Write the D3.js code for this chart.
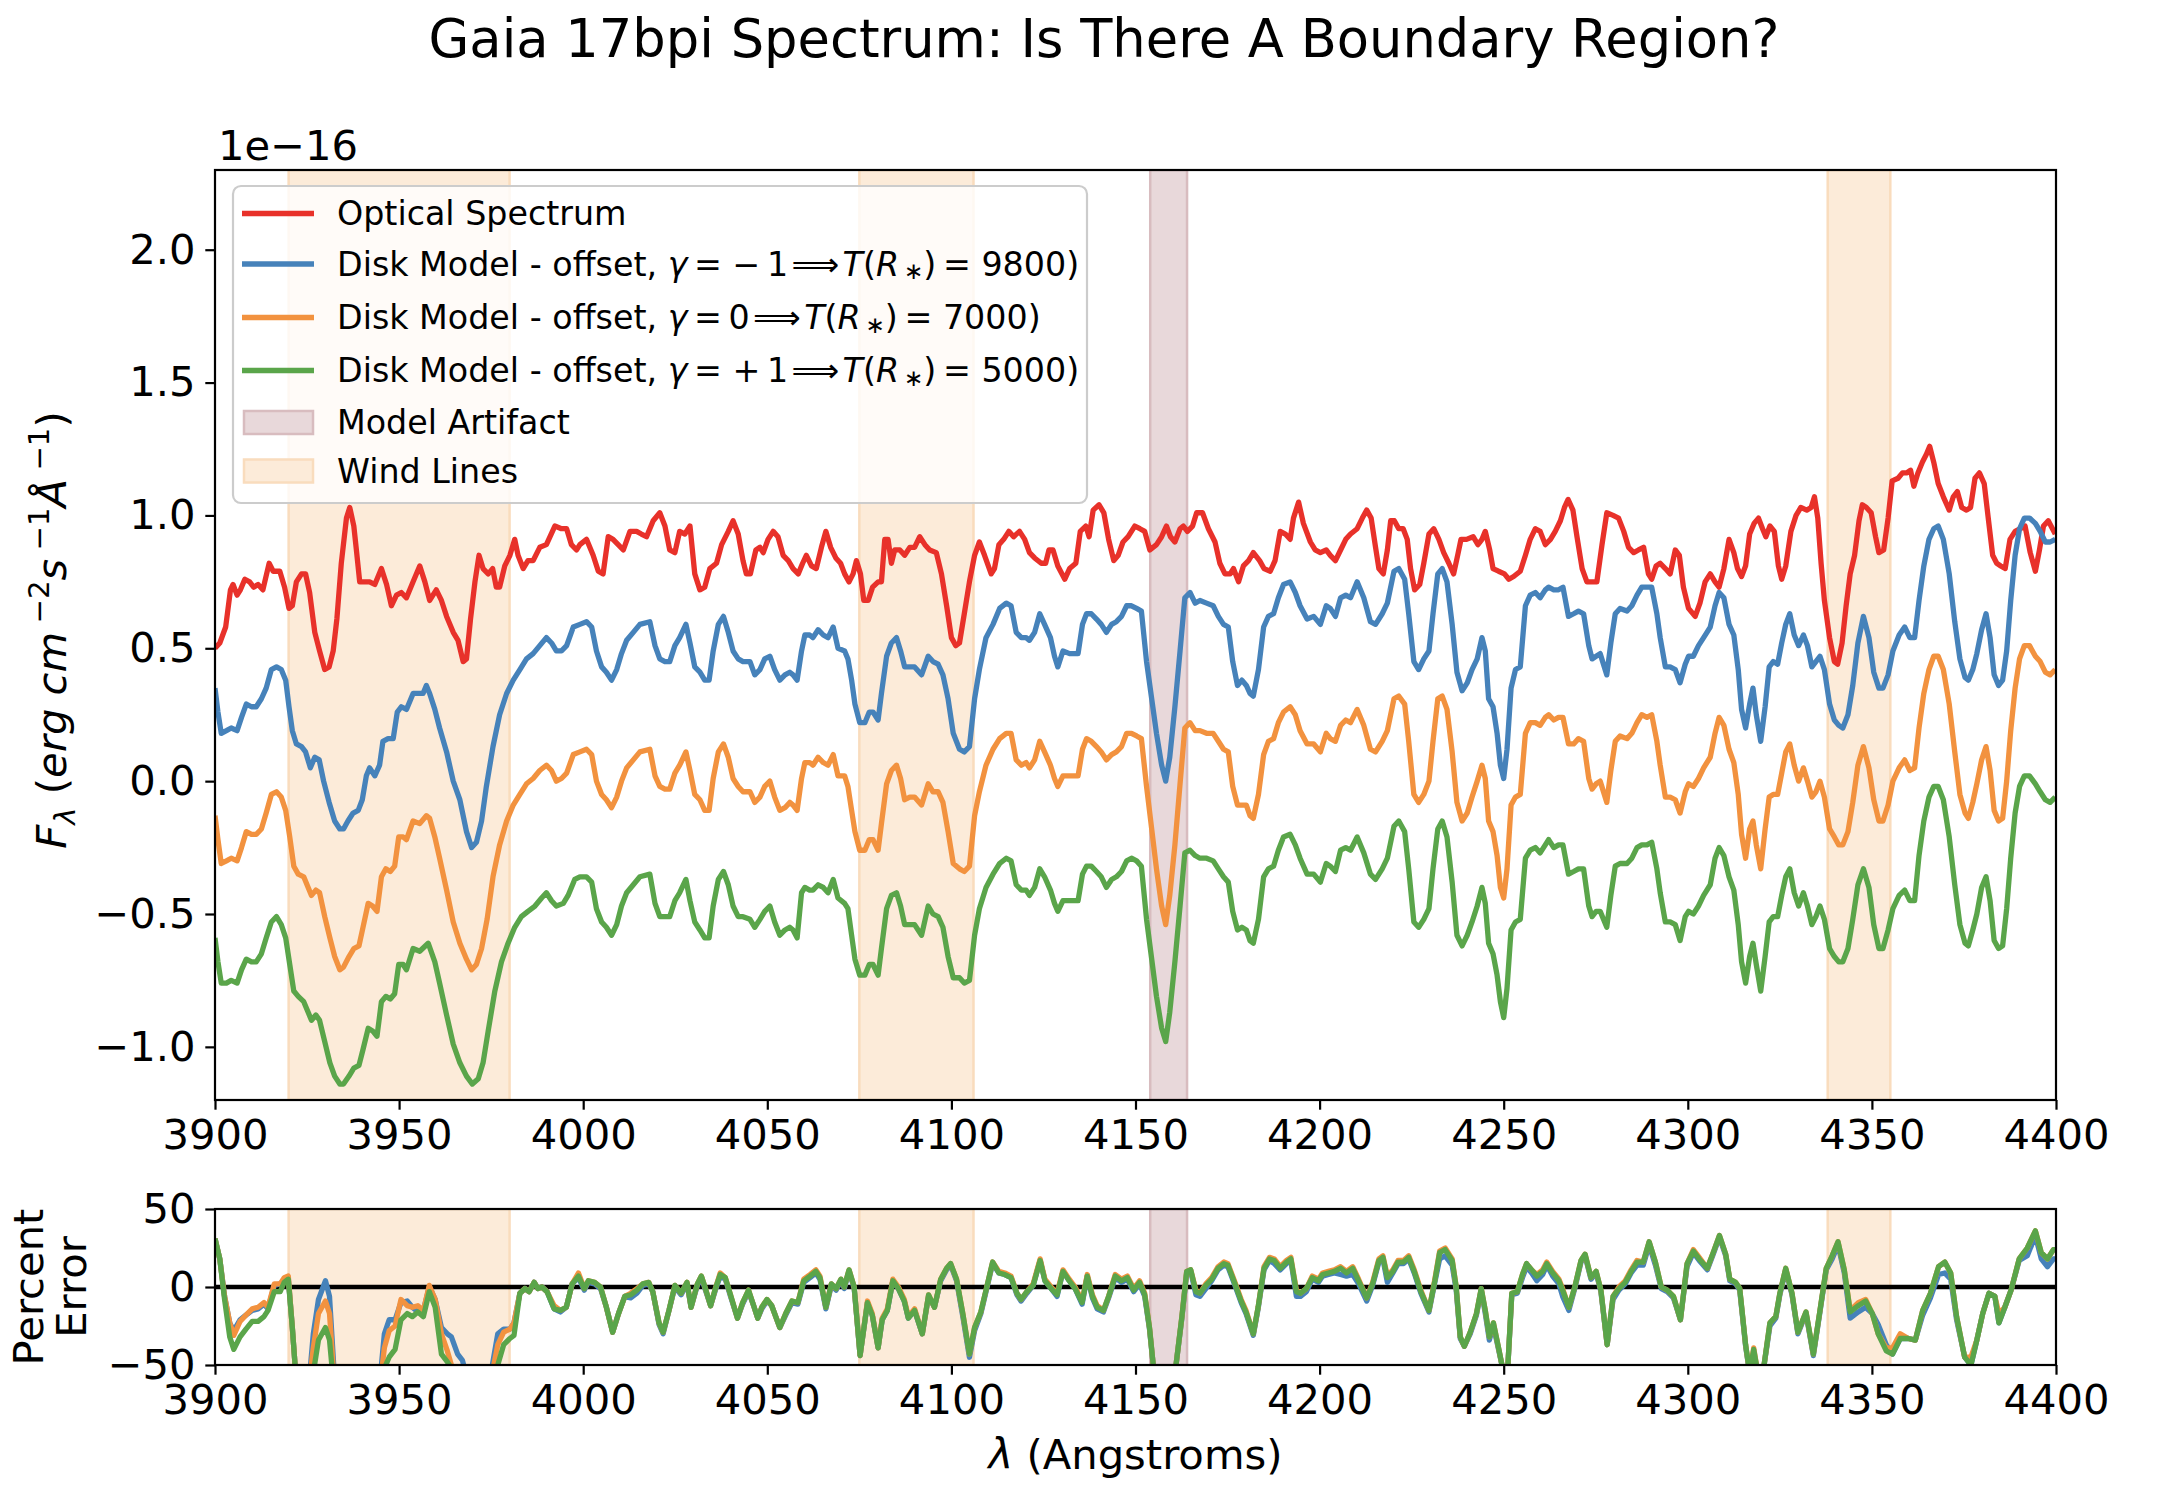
<!DOCTYPE html>
<html>
<head>
<meta charset="utf-8">
<script src="https://cdn.jsdelivr.net/npm/d3@7"></script>
<style>
  body { margin: 0; background: #fff; }
  svg { display: block; font-family: "DejaVu Sans", sans-serif; }
</style>
</head>
<body>
<div class="container"></div>
<script>
// ---------- data ----------
const wavelengthTicks = [3900, 3950, 4000, 4050, 4100, 4150, 4200, 4250, 4300, 4350, 4400];
const fluxTicks = [-1.0, -0.5, 0.0, 0.5, 1.0, 1.5, 2.0];
const errorTicks = [-50, 0, 50];
const windLineBands = [[3920, 3980], [4075, 4106], [4338, 4355]];
const artifactBands = [[4154, 4164]];

// observed spectrum, [wavelength, flux / 1e-16]
const opticalSpectrum = [
  [3900.0,.50],[3901.3,.52],[3902.9,.58],[3904.2,.72],[3904.9,.74],[3906.0,.70],[3906.9,.72],[3908.1,.76],[3909.4,.75],[3910.5,.73],
  [3911.7,.74],[3913.0,.72],[3914.7,.82],[3915.8,.79],[3917.6,.79],[3918.9,.73],[3920.1,.65],[3921.0,.66],[3922.1,.75],[3923.5,.78],
  [3924.6,.78],[3925.7,.71],[3927.1,.56],[3928.4,.49],[3929.8,.42],[3931.0,.43],[3932.1,.49],[3933.1,.61],[3934.3,.82],[3935.7,.99],
  [3936.6,1.03],[3937.7,.96],[3938.4,.87],[3939.3,.75],[3940.7,.75],[3942.0,.75],[3943.4,.74],[3945.2,.80],[3946.6,.74],[3947.9,.66],
  [3949.3,.70],[3950.6,.71],[3952.0,.69],[3953.8,.75],[3955.6,.81],[3957.0,.75],[3958.3,.68],[3960.1,.72],[3961.5,.68],[3962.9,.62],
  [3964.7,.56],[3966.0,.53],[3967.4,.45],[3968.3,.46],[3969.4,.61],[3970.6,.75],[3971.7,.85],[3972.8,.80],[3974.2,.78],[3975.4,.80],
  [3976.4,.73],[3977.3,.73],[3978.7,.81],[3980.1,.85],[3981.4,.91],[3982.3,.85],[3983.7,.80],[3985.0,.83],[3986.4,.83],[3988.2,.88],
  [3990.0,.89],[3992.3,.96],[3994.1,.95],[3995.5,.95],[3996.8,.89],[3998.2,.87],
  [3999.1,.89],[4000.9,.91],[4002.7,.85],[4004.1,.79],[4005.4,.78],[4006.8,.92],[4008.1,.91],[4009.5,.89],[4010.9,.87],[4012.7,.94],
  [4014.5,.94],[4015.8,.93],[4017.2,.92],[4019.0,.98],[4020.8,1.01],[4022.2,.96],[4023.5,.87],[4024.9,.86],[4026.2,.94],[4027.6,.93],
  [4029.0,.96],[4030.3,.78],[4031.7,.72],[4033.0,.73],[4034.4,.80],[4036.2,.82],[4037.6,.89],[4039.4,.94],[4040.7,.98],[4042.1,.93],
  [4043.4,.83],[4044.3,.78],[4045.4,.78],[4046.9,.87],[4048.0,.88],[4048.9,.86],[4050.2,.91],[4051.6,.94],[4052.9,.92],[4054.3,.85],
  [4055.7,.83],[4057.0,.80],[4058.4,.78],[4059.6,.82],[4060.6,.85],[4062.0,.81],[4063.3,.80],[4064.7,.88],[4065.9,.94],[4067.2,.88],
  [4068.6,.84],[4069.9,.82],[4071.0,.78],[4072.2,.75],[4073.3,.78],[4074.2,.83],[4075.3,.78],[4076.2,.68],[4077.4,.68],[4078.6,.73],
  [4080.1,.75],[4081.0,.75],[4081.9,.91],[4082.8,.91],[4083.7,.82],[4084.6,.87],[4086.0,.87],[4087.3,.85],[4088.7,.88],[4090.0,.88],
  [4091.4,.92],[4092.8,.89],[4094.1,.87],[4095.9,.86],[4097.3,.78],[4098.7,.66],[4100.0,.54],[4101.2,.51],
  [4102.2,.52],[4103.5,.63],[4104.9,.75],[4106.3,.85],[4107.6,.90],[4109.0,.85],[4110.8,.78],[4111.7,.80],[4112.9,.89],[4114.2,.91],
  [4115.6,.94],[4116.9,.92],[4118.5,.94],[4119.9,.91],[4121.2,.86],[4122.6,.84],[4124.4,.82],[4125.6,.82],[4126.5,.87],[4127.6,.87],
  [4128.9,.81],[4130.8,.76],[4132.1,.80],[4133.8,.82],[4135.0,.94],[4136.5,.96],[4137.4,.92],[4138.5,1.02],[4140.1,1.04],[4141.4,1.01],
  [4142.7,.91],[4144.1,.83],[4145.3,.85],[4146.6,.90],[4148.0,.92],[4149.8,.96],[4151.2,.95],[4152.5,.94],[4153.9,.87],[4155.7,.89],
  [4157.1,.92],[4158.4,.96],[4159.5,.92],[4160.7,.90],[4162.1,.95],[4163.0,.96],[4164.1,.94],[4165.5,.96],[4166.6,1.01],[4168.2,1.01],
  [4169.8,.95],[4171.6,.90],[4172.9,.82],[4174.3,.78],[4175.7,.78],[4176.6,.80],[4178.0,.75],[4179.3,.81],[4180.7,.83],[4182.0,.86],
  [4183.7,.83],[4184.9,.80],[4186.6,.79],[4187.9,.83],[4189.3,.94],[4190.7,.93],[4192.0,.91],[4192.9,.99],[4194.3,1.05],[4195.6,.97],
  [4197.5,.90],[4198.8,.87],[4200.2,.86],[4201.8,.87],[4202.9,.85],[4204.3,.83],
  [4205.7,.87],[4207.1,.91],[4208.4,.93],[4210.2,.95],[4211.6,.99],[4212.8,1.02],[4214.0,.99],[4215.2,.88],[4216.1,.80],[4217.3,.78],
  [4218.4,.87],[4219.3,.98],[4220.3,.98],[4221.5,.95],[4222.7,.95],[4223.8,.91],[4224.7,.80],[4225.8,.72],[4227.2,.74],[4228.3,.82],
  [4229.7,.93],[4231.0,.95],[4232.4,.91],[4233.7,.86],[4235.1,.82],[4236.4,.78],[4237.5,.85],[4238.4,.91],[4239.9,.91],[4241.7,.92],
  [4243.0,.89],[4244.1,.91],[4245.0,.94],[4246.2,.87],[4247.1,.80],[4248.6,.79],[4250.2,.78],[4251.4,.76],[4252.7,.77],[4254.5,.79],
  [4255.9,.85],[4257.2,.91],[4258.6,.95],[4259.9,.94],[4261.3,.89],[4262.7,.91],[4264.0,.94],[4265.4,.98],[4266.5,1.03],[4267.5,1.06],
  [4268.8,1.02],[4269.9,.92],[4271.3,.80],[4272.6,.75],[4274.2,.75],[4275.3,.75],[4276.7,.89],[4278.0,1.01],[4279.7,1.00],[4281.2,.99],
  [4282.6,.94],[4283.9,.88],[4285.3,.86],[4286.6,.87],[4288.0,.88],[4289.3,.78],[4290.2,.76],[4291.4,.81],[4292.5,.82],[4293.9,.80],
  [4295.2,.78],[4296.6,.87],[4297.7,.85],[4298.8,.73],[4300.2,.65],[4302.0,.62],[4303.3,.67],[4304.7,.75],[4306.1,.78],[4307.4,.75],
  [4308.5,.73],[4309.8,.80],[4311.2,.91],[4312.5,.86],[4313.5,.80],[4314.6,.77],[4315.7,.81],[4316.8,.93],[4318.0,.97],[4319.2,.99],
  [4320.3,.95],[4321.2,.92],[4322.3,.96],[4323.5,.94],[4324.6,.81],[4325.5,.76],[4326.6,.81],[4328.0,.94],[4329.4,1.00],[4330.7,1.03],
  [4332.3,1.02],[4333.5,1.03],[4334.4,1.07],[4335.3,.99],[4336.2,.82],[4337.1,.68],[4338.5,.54],[4339.8,.45],[4340.7,.44],[4341.9,.52],
  [4343.0,.66],[4344.1,.78],[4345.3,.85],[4346.5,.98],[4347.4,1.04],[4348.5,1.03],[4349.8,1.01],[4351.0,.92],[4351.9,.86],[4353.2,.87],
  [4354.4,.99],[4355.5,1.13],[4357.1,1.14],[4358.3,1.16],[4359.4,1.16],[4360.5,1.17],[4361.4,1.11],[4362.5,1.16],[4363.7,1.20],[4364.8,1.23],
  [4365.7,1.26],[4366.8,1.20],[4368.0,1.12],[4369.4,1.07],[4371.0,1.02],[4372.1,1.07],[4373.2,1.09],[4374.4,1.03],[4375.7,1.02],[4376.8,1.03],
  [4378.0,1.14],[4379.2,1.16],[4380.5,1.12],[4381.6,.99],[4382.8,.85],[4383.9,.82],[4385.0,.81],[4386.2,.80],[4387.5,.91],[4388.9,.94],
  [4390.3,.95],[4391.6,.96],[4393.0,.86],[4394.4,.79],[4395.5,.87],[4396.6,.96],[4397.9,.98],[4399.8,.93]
];

// disk models (offset), first stretch read separately for each model
const blueModelStart = [
  [3900.0,.35],[3900.8,.26],[3901.7,.18],[3903.1,.19],[3904.4,.20],[3906.0,.19],[3907.2,.24],[3908.5,.29],[3909.9,.28],[3911.2,.28],
  [3912.6,.31],[3913.9,.35],[3915.3,.42],[3916.7,.43],[3918.0,.42],[3919.2,.38],[3920.1,.28],[3921.0,.19],[3922.1,.14],[3923.5,.13],
  [3924.6,.11],[3925.9,.05],[3927.1,.09],[3928.3,.08],[3929.5,.00],[3931.0,-.08],[3932.5,-.15],[3933.9,-.18],[3934.9,-.18],[3936.1,-.15],
  [3937.5,-.12],[3938.9,-.11],[3940.0,-.07],[3941.1,.02],[3942.0,.05],[3943.4,.02],[3944.7,.06],[3945.6,.15],[3947.0,.16],[3948.4,.16],
  [3949.5,.26],[3950.6,.28],[3952.0,.27],[3953.8,.33],[3955.2,.33],[3956.5,.33],[3957.4,.36],[3958.3,.33],[3959.7,.27],[3961.0,.20],
  [3962.9,.11],[3964.7,.00],[3966.5,-.07],[3968.3,-.19],[3969.7,-.25],[3971.0,-.23],[3972.4,-.15],[3973.7,-.02],[3975.5,.13],[3977.3,.25],
  [3979.2,.33],[3981.0,.38],[3982.8,.42],[3984.6,.46],[3986.4,.48],[3988.2,.51],[3990.0,.54],[3991.4,.52],[3992.7,.49],[3994.1,.49],
  [3995.5,.51],[3997.3,.58]
];
const orangeModelStart = [
  [3900.0,-.13],[3900.8,-.22],[3901.7,-.31],[3903.1,-.30],[3904.4,-.29],[3906.0,-.30],[3907.2,-.25],[3908.5,-.19],[3909.9,-.20],[3911.2,-.20],
  [3912.6,-.18],[3913.9,-.12],[3915.3,-.05],[3916.7,-.04],[3918.0,-.06],[3919.2,-.11],[3920.3,-.21],[3921.4,-.32],[3922.6,-.35],[3924.1,-.36],
  [3925.3,-.40],[3926.2,-.43],[3927.4,-.41],[3928.4,-.42],[3929.8,-.51],[3931.2,-.59],[3932.5,-.66],[3933.9,-.71],[3934.9,-.70],[3936.4,-.66],
  [3937.7,-.63],[3939.1,-.62],[3940.2,-.55],[3941.6,-.46],[3942.8,-.47],[3944.0,-.49],[3945.2,-.36],[3946.4,-.33],[3947.6,-.34],[3948.8,-.32],
  [3949.9,-.21],[3951.1,-.21],[3952.0,-.22],[3953.8,-.15],[3955.6,-.16],[3957.4,-.13],[3958.3,-.14],[3959.7,-.21],[3961.0,-.29],[3962.9,-.41],
  [3964.7,-.53],[3966.5,-.61],[3968.3,-.67],[3969.7,-.71],[3971.0,-.69],[3972.4,-.63],[3973.9,-.52],[3975.5,-.36],[3977.3,-.24],[3979.2,-.15],
  [3981.0,-.09],[3982.8,-.05],[3984.6,-.01],[3986.4,.01],[3988.2,.04],[3990.0,.06],[3991.4,.04],[3992.7,.00],[3994.1,.01],[3995.5,.03],
  [3997.3,.10]
];
const greenModelStart = [
  [3900.0,-.59],[3900.8,-.68],[3901.7,-.76],[3903.1,-.76],[3904.4,-.75],[3906.0,-.76],[3907.2,-.71],[3908.5,-.67],[3909.9,-.68],[3911.2,-.68],
  [3912.6,-.65],[3913.9,-.59],[3915.3,-.53],[3916.7,-.51],[3918.0,-.54],[3919.2,-.59],[3920.3,-.69],[3921.4,-.79],[3922.6,-.81],[3924.1,-.83],
  [3925.3,-.87],[3926.2,-.90],[3927.4,-.88],[3928.4,-.90],[3929.8,-.98],[3931.2,-1.06],[3932.5,-1.11],[3933.9,-1.14],[3934.9,-1.14],[3936.4,-1.11],
  [3937.7,-1.08],[3939.1,-1.07],[3940.2,-1.01],[3941.6,-.93],[3942.8,-.94],[3944.0,-.96],[3945.2,-.83],[3946.4,-.81],[3947.6,-.82],[3948.8,-.80],
  [3949.9,-.69],[3951.1,-.69],[3952.0,-.71],[3953.8,-.63],[3955.6,-.64],[3957.9,-.61],[3959.7,-.68],[3961.0,-.76],[3962.9,-.88],[3964.7,-.99],
  [3966.5,-1.06],[3968.3,-1.11],[3969.9,-1.14],[3971.5,-1.12],[3972.8,-1.06],[3974.2,-.94],[3976.0,-.79],[3977.8,-.68],[3979.6,-.61],[3981.4,-.55],
  [3983.2,-.51],[3985.0,-.49],[3986.9,-.47],[3988.7,-.44],[3990.0,-.42],[3991.4,-.45],[3992.7,-.47],[3994.6,-.46],[3995.9,-.43],[3997.7,-.37]
];

// shared wavelength grid for the rest of the three models
const modelWave = [
  3999.1,4000.9,4002.3,4003.6,4005.0,4006.3,4007.7,4009.1,4010.4,4011.8,
  4013.6,4015.4,4018.1,4019.5,4020.8,4022.2,4023.5,4024.9,4026.2,4027.9,
  4029.0,4030.3,4031.7,4033.0,4034.2,4035.3,4036.7,4038.1,4039.4,4040.7,
  4042.1,4043.4,4045.3,4046.6,4048.0,4049.3,4050.7,4052.0,4053.4,4054.8,
  4056.1,4057.0,4058.1,4059.3,4060.2,4061.5,4062.4,4063.8,4065.2,4066.5,
  4067.9,4069.2,4071.0,4071.9,4072.9,4073.8,4075.1,4076.5,4077.7,4078.7,
  4080.1,4081.0,4082.4,4083.7,4085.1,4086.2,4087.3,4088.7,4090.0,4091.9,
  4093.7,4095.0,4096.4,4097.7,4099.1,4100.5,
  4102.2,4103.5,4104.9,4106.3,4107.6,4109.4,4111.3,4113.1,4114.9,4116.2,
  4117.6,4119.0,4120.3,4121.2,4122.6,4124.0,4125.3,4126.9,4128.0,4128.9,
  4130.3,4132.1,4134.4,4135.6,4136.7,4138.0,4139.4,4140.7,4142.1,4143.5,
  4144.8,4146.2,4147.6,4148.9,4150.3,4151.6,4153.0,4154.4,4155.7,4157.1,
  4158.2,4159.3,4160.7,4162.1,4163.4,4164.8,4166.2,4167.5,4169.3,4171.1,
  4172.5,4173.9,4175.2,4176.4,4177.7,4178.9,4180.1,4181.1,4182.0,4183.4,
  4184.8,4186.1,4187.5,4188.8,4190.2,4192.0,4193.4,4194.7,4196.6,4198.4,
  4200.2,4201.8,4202.9,4204.3,
  4205.7,4207.1,4208.4,4210.2,4212.0,4213.8,4215.2,4217.0,4218.4,4220.2,
  4221.5,4223.1,4224.2,4225.6,4226.9,4228.3,4229.7,4230.8,4232.1,4233.3,
  4234.6,4236.0,4237.3,4238.7,4240.1,4241.4,4242.8,4244.1,4245.0,4245.9,
  4247.1,4248.2,4249.1,4250.0,4250.9,4252.0,4253.2,4254.5,4255.9,4257.2,
  4258.6,4259.9,4261.3,4262.2,4263.6,4264.9,4266.1,4267.6,4269.0,4270.3,
  4271.7,4273.1,4274.0,4275.1,4276.2,4278.0,4279.1,4280.3,4281.6,4283.5,
  4284.8,4286.2,4287.5,4288.9,4290.2,4291.6,4292.5,4293.9,4295.2,4296.6,
  4297.9,4299.3,4300.2,4301.5,4302.9,4304.3,4306.1,4307.4,
  4308.5,4309.8,4311.2,4312.5,4313.7,4314.6,4315.7,4316.8,4317.7,4318.6,
  4319.8,4321.0,4322.1,4323.2,4324.4,4325.5,4326.6,4327.7,4328.9,4330.1,
  4331.4,4332.5,4333.7,4334.8,4335.9,4337.1,4338.5,4339.8,4341.0,4342.1,
  4343.5,4344.8,4346.2,4347.7,4349.2,4350.5,4351.9,4353.0,4354.4,4355.7,
  4357.4,4358.9,4360.3,4361.6,4362.8,4364.1,4365.5,4366.8,4368.0,4369.4,
  4371.0,4372.5,4373.9,4375.3,4376.2,4377.4,4378.5,4379.8,4381.0,4382.1,
  4383.2,4384.4,4385.5,4386.6,4387.7,4388.9,4390.1,4391.4,4392.8,4394.4,
  4395.7,4397.1,4398.4,4399.8
];
const blueModelRest = [
  .59,.60,.58,.49,.43,.41,.38,.42,.48,.53,
  .56,.59,.60,.51,.46,.45,.45,.51,.54,.59,
  .52,.43,.41,.38,.38,.49,.59,.62,.56,.49,
  .46,.45,.45,.40,.42,.46,.47,.42,.38,.40,
  .41,.40,.38,.49,.55,.55,.54,.57,.55,.54,
  .58,.50,.49,.46,.38,.29,.22,.22,.26,.26,
  .23,.33,.47,.52,.54,.49,.43,.43,.43,.40,
  .47,.45,.44,.40,.31,.18,
  .12,.11,.13,.31,.42,.54,.59,.65,.67,.66,
  .56,.54,.54,.53,.56,.63,.59,.54,.47,.43,
  .49,.48,.48,.59,.63,.63,.61,.59,.56,.59,
  .60,.62,.66,.66,.65,.64,.45,.31,.18,.06,
  .00,.09,.28,.49,.69,.71,.67,.68,.67,.66,
  .62,.59,.58,.45,.36,.38,.36,.33,.32,.42,
  .58,.62,.63,.69,.74,.75,.71,.66,.61,.62,
  .59,.66,.65,.62,
  .69,.70,.69,.75,.69,.60,.59,.63,.67,.79,
  .80,.76,.63,.45,.42,.46,.49,.63,.78,.80,
  .75,.59,.41,.34,.37,.42,.46,.54,.49,.31,
  .28,.18,.06,.01,.12,.35,.42,.43,.66,.70,
  .71,.69,.72,.73,.72,.72,.73,.62,.63,.64,
  .63,.51,.46,.47,.48,.40,.52,.63,.65,.64,
  .66,.70,.73,.73,.73,.63,.54,.43,.43,.42,
  .37,.44,.47,.47,.51,.54,.58,.66,
  .71,.69,.59,.55,.42,.27,.20,.29,.35,.25,
  .15,.28,.43,.45,.44,.52,.59,.63,.55,.51,
  .55,.51,.43,.45,.47,.42,.29,.23,.21,.20,
  .25,.36,.52,.62,.54,.41,.35,.35,.40,.49,
  .55,.58,.54,.54,.68,.81,.91,.95,.96,.91,
  .78,.60,.46,.39,.38,.42,.48,.57,.63,.54,
  .40,.36,.38,.49,.68,.85,.95,.99,.99,.97,
  .94,.90,.90,.91
];
const orangeModelRest = [
  .11,.12,.10,.00,-.05,-.07,-.10,-.06,.00,.05,
  .08,.11,.12,.02,-.02,-.03,-.03,.03,.06,.11,
  .04,-.05,-.07,-.11,-.11,.01,.11,.14,.09,.01,
  -.02,-.04,-.04,-.08,-.06,-.02,.00,-.06,-.11,-.10,
  -.08,-.09,-.11,.01,.07,.07,.06,.09,.07,.06,
  .10,.02,.02,-.02,-.11,-.19,-.26,-.26,-.22,-.22,
  -.26,-.16,-.01,.04,.06,.01,-.07,-.06,-.06,-.09,
  -.01,-.04,-.04,-.08,-.19,-.31,
  -.33,-.34,-.32,-.13,-.04,.06,.12,.16,.18,.18,
  .08,.06,.07,.05,.08,.15,.11,.06,.01,-.02,
  .02,.02,.02,.12,.16,.15,.13,.11,.08,.10,
  .11,.13,.18,.18,.17,.16,-.02,-.18,-.33,-.47,
  -.54,-.43,-.24,-.01,.20,.22,.19,.19,.18,.18,
  .15,.12,.11,-.02,-.09,-.09,-.09,-.13,-.14,-.05,
  .10,.15,.16,.22,.26,.28,.25,.19,.14,.14,
  .11,.18,.16,.15,
  .21,.23,.22,.27,.21,.12,.11,.15,.19,.31,
  .32,.29,.15,-.05,-.08,-.05,.00,.15,.31,.32,
  .27,.11,-.08,-.15,-.12,-.06,.00,.06,.01,-.15,
  -.19,-.28,-.40,-.44,-.33,-.09,-.06,-.05,.18,.22,
  .22,.21,.24,.25,.23,.24,.24,.14,.14,.16,
  .15,.01,-.03,-.01,.00,-.08,.04,.15,.17,.16,
  .18,.22,.25,.24,.25,.15,.06,-.06,-.06,-.07,
  -.12,-.04,-.01,-.02,.01,.05,.09,.18,
  .24,.21,.12,.07,-.05,-.20,-.29,-.18,-.15,-.24,
  -.33,-.18,-.06,-.05,-.05,.03,.11,.14,.06,.00,
  .05,.00,-.06,-.04,.00,-.06,-.18,-.21,-.24,-.24,
  -.19,-.08,.06,.13,.05,-.07,-.15,-.15,-.09,.00,
  .05,.08,.04,.05,.20,.33,.42,.47,.47,.42,
  .29,.11,-.05,-.12,-.14,-.08,-.01,.08,.13,.04,
  -.11,-.15,-.14,.00,.19,.35,.46,.51,.51,.47,
  .45,.41,.40,.42
];
const greenModelRest = [
  -.36,-.36,-.38,-.48,-.53,-.55,-.58,-.54,-.47,-.42,
  -.39,-.36,-.35,-.46,-.51,-.51,-.51,-.45,-.42,-.37,
  -.45,-.53,-.56,-.59,-.59,-.47,-.37,-.34,-.39,-.47,
  -.51,-.51,-.52,-.55,-.52,-.49,-.47,-.53,-.58,-.56,
  -.55,-.56,-.59,-.42,-.40,-.41,-.41,-.39,-.40,-.42,
  -.37,-.44,-.46,-.48,-.58,-.67,-.73,-.73,-.69,-.69,
  -.73,-.63,-.48,-.43,-.42,-.47,-.54,-.54,-.54,-.58,
  -.47,-.50,-.51,-.55,-.66,-.74,
  -.74,-.76,-.75,-.58,-.48,-.40,-.35,-.31,-.29,-.30,
  -.39,-.41,-.41,-.43,-.40,-.33,-.36,-.41,-.46,-.49,
  -.45,-.45,-.45,-.35,-.32,-.32,-.34,-.36,-.40,-.37,
  -.36,-.34,-.30,-.29,-.30,-.32,-.52,-.67,-.81,-.93,
  -.98,-.87,-.68,-.47,-.27,-.26,-.28,-.29,-.29,-.30,
  -.33,-.36,-.38,-.49,-.56,-.55,-.56,-.60,-.61,-.52,
  -.36,-.33,-.32,-.26,-.21,-.20,-.24,-.29,-.35,-.35,
  -.38,-.31,-.32,-.34,
  -.26,-.25,-.26,-.21,-.27,-.35,-.37,-.33,-.29,-.17,
  -.15,-.19,-.33,-.53,-.55,-.52,-.48,-.33,-.18,-.15,
  -.21,-.38,-.58,-.62,-.58,-.53,-.47,-.40,-.46,-.61,
  -.65,-.73,-.83,-.89,-.78,-.56,-.53,-.52,-.29,-.26,
  -.25,-.27,-.24,-.22,-.25,-.24,-.24,-.35,-.34,-.33,
  -.33,-.47,-.51,-.49,-.49,-.55,-.43,-.32,-.31,-.31,
  -.29,-.25,-.24,-.24,-.23,-.33,-.42,-.53,-.53,-.54,
  -.60,-.51,-.49,-.50,-.47,-.43,-.39,-.29,
  -.25,-.28,-.36,-.41,-.54,-.68,-.76,-.66,-.61,-.69,
  -.79,-.66,-.53,-.51,-.51,-.43,-.36,-.33,-.42,-.47,
  -.42,-.47,-.54,-.51,-.47,-.52,-.63,-.66,-.68,-.68,
  -.63,-.52,-.39,-.33,-.40,-.54,-.63,-.63,-.56,-.48,
  -.43,-.41,-.45,-.45,-.28,-.15,-.06,-.02,-.02,-.07,
  -.21,-.39,-.54,-.61,-.62,-.56,-.50,-.40,-.36,-.45,
  -.60,-.63,-.62,-.48,-.29,-.12,-.02,.02,.02,-.01,
  -.04,-.07,-.08,-.06
];

// percent error panel
const errWave = [
  3900.0,3901.3,3902.6,3904.0,3905.1,3906.8,3908.4,3910.1,3911.7,3913.3,
  3914.4,3916.1,3917.7,3918.8,3919.9,3921.0,3921.9,3923.2,3925.4,3926.7,
  3928.1,3930.0,3931.1,3932.5,3937.4,3944.0,3946.0,3947.3,3948.9,3950.5,
  3952.2,3953.6,3955.1,3956.6,3958.2,3959.8,3961.5,3963.1,3964.2,3965.9,
  3967.2,3968.1,3972.4,3976.8,3978.4,3980.1,3981.2,3982.8,3984.2,3985.3,
  3986.7,3987.7,3988.8,3990.2,3992.1,3993.8,3995.4,3997.0,3998.7,4000.3,
  4001.4,4003.1,4004.7,4006.3,4008.0,4009.6,4011.3,4012.9,4014.6,4016.2,
  4017.8,4018.9,4020.6,4021.7,4023.3,4024.9,4026.6,4028.2,4029.3,4031.0,
  4032.1,4033.2,4034.6,4035.9,4037.2,4038.6,4040.0,4041.9,4043.3,4044.9,
  4046.3,4047.4,4048.5,4049.9,4051.2,4053.4,4055.0,4056.7,4058.3,4059.9,
  4061.6,4063.2,4064.3,4065.9,4067.4,4068.7,4070.0,4070.9,4072.2,4073.6,
  4075.2,4077.2,4078.5,4080.1,4081.2,4082.6,4084.1,4085.6,4087.2,4088.3,
  4090.0,4092.1,4093.8,4095.4,4097.1,4098.7,4099.8,4101.4,4103.1,4104.9,
  4106.3,4108.0,4109.6,4111.2,4112.9,4114.5,4116.2,4117.8,4118.9,4120.5,
  4122.2,4124.1,4125.4,4127.1,4128.7,4130.3,4132.0,4133.6,4135.5,4136.9,
  4138.3,4139.6,4141.3,4142.7,4144.5,4146.2,4147.8,4149.5,4151.1,4152.5,
  4153.8,4154.9,4157.1,4159.8,4160.9,4162.6,4163.9,4165.0,4166.4,4167.5,
  4169.1,4170.7,4172.4,4174.0,4175.1,4176.7,4178.7,4180.0,4182.0,4183.3,
  4184.9,4186.4,4187.7,4189.3,4191.0,4192.2,4193.7,4194.8,4196.4,4198.0,
  4199.7,4200.8,4202.4,4204.0,4205.7,4207.3,4209.0,4210.6,4212.8,4214.4,
  4216.1,4217.2,4218.4,4219.9,4221.3,4222.8,4224.2,4225.7,4227.5,4229.7,
  4231.3,4232.6,4234.1,4236.0,4237.1,4238.2,4239.3,4240.9,4242.6,4243.9,
  4245.0,4246.1,4247.2,4248.6,4249.7,4250.8,4252.2,4253.7,4255.1,4256.2,
  4257.6,4259.0,4260.6,4261.7,4263.3,4265.0,4266.0,4267.7,4269.3,4271.0,
  4272.1,4273.7,4275.1,4276.4,4278.1,4279.7,4281.3,4283.0,4284.6,4286.2,
  4287.9,4289.5,4291.2,4292.8,4294.4,4296.1,4298.0,4299.8,4301.5,4303.1,
  4305.3,4306.9,4308.6,4310.3,4311.4,4313.0,4314.1,4315.7,4316.8,4317.9,
  4319.0,4320.6,4322.3,4323.9,4325.0,4326.6,4328.3,4329.9,4332.1,4334.1,
  4335.9,4337.6,4339.2,4340.8,4342.5,4344.1,4346.3,4348.3,4350.1,4351.7,
  4353.9,4355.6,4357.7,4359.9,4361.8,4363.8,4365.9,4368.1,4369.8,4371.4,
  4373.0,4375.2,4376.9,4378.5,4380.1,4381.8,4383.4,4384.5,4386.1,4387.8,
  4390.0,4392.2,4394.4,4396.0,4397.7,4399.3,4400.0
];
const errBlue = [
  31,18,-6,-23,-28,-21,-18,-15,-14,-11,
  -14,1,2,4,6,-26,-55,-80,-65,-30,
  -8,4,-6,-60,-90,-80,-30,-21,-21,-10,
  -9,-13,-16,-15,0,-8,-26,-30,-32,-43,
  -47,-55,-90,-30,-27,-27,-23,-4,-1,-3,
  3,-1,0,-3,-14,-16,-13,2,6,-2,
  3,2,-1,-13,-29,-17,-6,-7,-4,1,
  2,-3,-24,-30,-15,0,-5,2,-13,1,
  6,-2,-12,-2,7,5,-6,-20,-11,-3,
  -12,-20,-14,-9,-12,-26,-18,-10,-11,3,
  6,9,5,-14,1,-2,4,-1,10,-1,
  -44,-10,-18,-39,-21,-15,4,-1,-9,-20,
  -15,-30,-6,-13,4,11,14,4,-19,-45,
  -28,-17,-1,15,9,8,6,-5,-9,-4,
  1,17,4,-1,-6,10,4,-1,-11,7,
  -7,-14,-16,-7,6,3,5,-3,2,-6,
  -27,-52,-90,-80,-52,-20,9,10,-5,-6,
  -1,4,11,14,13,3,-10,-17,-31,-14,
  11,17,15,11,15,17,-6,-6,-3,5,
  3,7,8,9,8,7,8,2,-9,1,
  16,18,3,9,15,15,18,9,-4,-16,
  3,18,20,14,-2,-33,-38,-30,-18,-2,
  -17,-34,-25,-40,-52,-65,-5,-4,6,13,
  9,4,8,14,7,2,-6,-15,-1,16,
  20,5,9,-3,-37,-8,-2,2,9,14,
  14,27,14,-1,-3,-7,-21,13,22,17,
  11,21,32,20,4,2,-2,-38,-55,-42,
  -55,-52,-25,-20,-5,11,-5,-30,-17,-44,
  -16,11,18,27,9,-20,-16,-13,-17,-24,
  -37,-43,-33,-33,-34,-18,-7,8,9,5,
  -21,-45,-50,-34,-17,-4,-6,-23,-13,-2,
  17,20,33,18,13,18,18
];
const errOrange = [
  31,18,-6,-23,-31,-22,-18,-14,-13,-10,
  -13,2,2,6,7,-26,-55,-80,-65,-39,
  -17,-9,-17,-65,-90,-80,-39,-28,-25,-8,
  -12,-13,-12,-15,1,-8,-30,-41,-50,-60,
  -70,-75,-90,-37,-29,-27,-23,-4,-1,-3,
  3,-1,0,-3,-12,-15,-13,2,9,-1,
  4,3,0,-13,-29,-17,-6,-4,-1,2,
  3,-3,-23,-29,-15,1,-4,3,-13,2,
  7,-1,-12,-1,9,6,-5,-20,-10,-2,
  -12,-20,-13,-8,-12,-26,-17,-9,-10,5,
  8,11,7,-13,2,-1,5,0,11,0,
  -44,-9,-17,-39,-20,-14,5,0,-8,-19,
  -14,-30,-5,-13,5,12,15,5,-17,-43,
  -26,-16,0,16,10,9,7,-4,-8,-3,
  2,18,5,0,-4,11,5,0,-9,8,
  -5,-12,-15,-6,8,5,7,-1,4,-4,
  -26,-52,-90,-80,-52,-19,10,11,-2,-4,
  2,6,13,16,15,5,-8,-15,-30,-13,
  13,19,18,13,17,19,-2,-4,-1,7,
  5,9,10,11,13,10,13,5,-7,3,
  18,20,7,11,17,17,20,11,-2,-15,
  5,23,25,18,0,-32,-38,-29,-17,-1,
  -15,-32,-23,-39,-52,-65,-4,-3,8,15,
  11,8,11,16,10,5,-1,-13,0,17,
  21,6,10,-2,-37,-6,0,4,11,17,
  16,29,16,0,-2,-6,-21,15,24,19,
  12,22,33,21,5,3,-1,-37,-55,-39,
  -55,-52,-23,-19,-4,12,-4,-29,-16,-43,
  -15,12,20,29,11,-15,-10,-8,-17,-30,
  -39,-39,-30,-33,-34,-15,-4,13,16,9,
  -19,-45,-45,-34,-17,-4,-6,-17,-13,-2,
  18,25,36,22,18,24,24
];
const errGreen = [
  31,18,-8,-32,-40,-32,-27,-22,-22,-19,
  -15,-3,-3,3,5,-26,-55,-80,-70,-55,
  -34,-26,-34,-70,-90,-80,-52,-45,-40,-21,
  -17,-19,-16,-19,-3,-13,-43,-48,-52,-65,
  -70,-78,-90,-50,-37,-33,-31,-4,-1,-3,
  3,-1,0,-3,-14,-15,-13,2,7,-1,
  4,3,0,-13,-29,-17,-6,-5,-2,2,
  3,-3,-23,-29,-15,1,-4,3,-13,2,
  7,-1,-12,-1,8,6,-5,-20,-10,-2,
  -12,-20,-13,-8,-12,-26,-17,-9,-10,4,
  7,10,6,-13,2,-1,5,0,11,0,
  -44,-10,-18,-39,-21,-15,4,-1,-9,-20,
  -15,-30,-5,-13,5,12,15,5,-17,-43,
  -26,-16,0,16,9,8,6,-4,-8,-3,
  1,17,4,-1,-5,10,4,-1,-10,7,
  -6,-13,-15,-6,7,4,6,-2,3,-5,
  -26,-52,-90,-80,-52,-19,10,11,-3,-4,
  1,5,12,15,14,4,-9,-16,-30,-13,
  12,18,17,12,16,18,-3,-4,-1,6,
  4,8,9,10,12,9,12,4,-7,2,
  17,19,6,10,16,16,19,10,-3,-15,
  4,22,24,17,0,-32,-38,-29,-17,-1,
  -15,-32,-23,-39,-52,-65,-4,-3,8,15,
  11,7,10,15,9,4,-2,-13,0,17,
  21,6,10,-2,-37,-6,-1,3,10,16,
  16,29,16,0,-2,-6,-21,15,23,18,
  12,22,33,21,5,3,-1,-37,-55,-40,
  -55,-52,-23,-19,-4,12,-4,-29,-16,-43,
  -15,12,20,29,11,-16,-12,-9,-17,-30,
  -41,-43,-33,-33,-34,-15,-4,13,16,9,
  -19,-45,-50,-34,-17,-4,-6,-23,-13,-2,
  18,25,36,22,18,24,24
];

// sanity check on hand-typed arrays
[blueModelRest, orangeModelRest, greenModelRest].forEach(a => {
  if (a.length !== modelWave.length) throw new Error("model length " + a.length + " vs " + modelWave.length);
});
[errBlue, errOrange, errGreen].forEach(a => {
  if (a.length !== errWave.length) throw new Error("error length " + a.length + " vs " + errWave.length);
});

// ---------- layout ----------
const width = 2174, height = 1486;
const plotLeft = 215, plotRight = 2056;
const fluxTop = 170, fluxBottom = 1100;
const errTop = 1209, errBottom = 1365;
const tickFont = 41.7, legendFont = 33.3;

const colors = { red: "#e8312a", blue: "#4682ba", orange: "#f2923f", green: "#5aa54a" };

const svg = d3.select(".container")
  .append("svg")
  .attr("width", width)
  .attr("height", height)
  .attr("viewBox", `0 0 ${width} ${height}`);

const x = d3.scaleLinear().domain([3900, 4400]).range([plotLeft, plotRight]);
const yFlux = d3.scaleLinear().domain([-1.2, 2.3]).range([fluxBottom, fluxTop]);
const yErr = d3.scaleLinear().domain([-50, 50]).range([errBottom, errTop]);

const defs = svg.append("defs");
defs.append("clipPath").attr("id", "clip-flux")
  .append("rect").attr("x", plotLeft).attr("y", fluxTop)
  .attr("width", plotRight - plotLeft).attr("height", fluxBottom - fluxTop);
defs.append("clipPath").attr("id", "clip-err")
  .append("rect").attr("x", plotLeft).attr("y", errTop)
  .attr("width", plotRight - plotLeft).attr("height", errBottom - errTop);

const fluxSeries = [
  { data: opticalSpectrum, color: colors.red },
  { data: blueModelStart.concat(d3.zip(modelWave, blueModelRest)), color: colors.blue },
  { data: orangeModelStart.concat(d3.zip(modelWave, orangeModelRest)), color: colors.orange },
  { data: greenModelStart.concat(d3.zip(modelWave, greenModelRest)), color: colors.green }
];
const errSeries = [
  { data: d3.zip(errWave, errBlue), color: colors.blue },
  { data: d3.zip(errWave, errOrange), color: colors.orange },
  { data: d3.zip(errWave, errGreen), color: colors.green }
];

function drawBands(g, top, bottom) {
  g.selectAll("rect.wind")
    .data(windLineBands)
    .join("rect")
    .attr("class", "wind")
    .attr("x", d => x(d[0]))
    .attr("width", d => x(d[1]) - x(d[0]))
    .attr("y", top)
    .attr("height", bottom - top)
    .attr("fill", "#fcebd9")
    .attr("stroke", "#f9dcbd")
    .attr("stroke-width", 2.5);
  g.selectAll("rect.artifact")
    .data(artifactBands)
    .join("rect")
    .attr("class", "artifact")
    .attr("x", d => x(d[0]))
    .attr("width", d => x(d[1]) - x(d[0]))
    .attr("y", top)
    .attr("height", bottom - top)
    .attr("fill", "#e8d8da")
    .attr("stroke", "#d8bcbf")
    .attr("stroke-width", 2.5);
}

function styleAxis(g) {
  g.select(".domain").remove();
  g.selectAll(".tick line").attr("stroke", "#000").attr("stroke-width", 2.2);
  g.selectAll(".tick text")
    .attr("fill", "#000")
    .attr("font-size", tickFont)
    .attr("font-family", "DejaVu Sans");
}

const minus = s => s.replace("-", "\u2212");

// ---------- top panel: flux ----------
const fluxPanel = svg.append("g");
drawBands(fluxPanel.append("g").attr("clip-path", "url(#clip-flux)"), fluxTop, fluxBottom);

const fluxLine = d3.line().x(d => x(d[0])).y(d => yFlux(d[1]));
fluxPanel.append("g")
  .attr("clip-path", "url(#clip-flux)")
  .selectAll("path")
  .data(fluxSeries)
  .join("path")
  .attr("d", d => fluxLine(d.data))
  .attr("fill", "none")
  .attr("stroke", d => d.color)
  .attr("stroke-width", 5.3)
  .attr("stroke-linejoin", "round");

fluxPanel.append("g")
  .attr("transform", `translate(0,${fluxBottom})`)
  .call(d3.axisBottom(x).tickValues(wavelengthTicks).tickFormat(d3.format("d"))
    .tickSize(9.7).tickPadding(9.7))
  .call(styleAxis);
fluxPanel.append("g")
  .attr("transform", `translate(${plotLeft},0)`)
  .call(d3.axisLeft(yFlux).tickValues(fluxTicks).tickFormat(d => minus(d3.format(".1f")(d)))
    .tickSize(9.7).tickPadding(9.7))
  .call(styleAxis);

fluxPanel.append("rect")
  .attr("x", plotLeft).attr("y", fluxTop)
  .attr("width", plotRight - plotLeft).attr("height", fluxBottom - fluxTop)
  .attr("fill", "none").attr("stroke", "#000").attr("stroke-width", 2.2);

svg.append("text")
  .attr("x", plotLeft + 3).attr("y", 160)
  .attr("font-size", tickFont)
  .text("1e\u221216");

// ---------- legend ----------
function richText(textSel, pieces, size) {
  let shift = 0;
  pieces.forEach(([txt, kind]) => {
    const t = textSel.append("tspan").text(txt);
    let target = 0;
    if (kind === "i") t.attr("font-style", "italic");
    if (kind === "sub") { t.attr("font-size", size * 0.7); target = size * 0.1; }
    if (kind === "subi") { t.attr("font-size", size * 0.7).attr("font-style", "italic"); target = size * 0.22; }
    if (kind === "sup") { t.attr("font-size", size * 0.7); target = -size * 0.4; }
    if (target !== shift) t.attr("dy", target - shift);
    shift = target;
  });
  if (shift !== 0) textSel.append("tspan").attr("dy", -shift).text("\u200b");
}

const thin = "\u2009", hair = "\u200a";
const legendRows = [
  { kind: "line", color: colors.red, label: [["Optical Spectrum", "n"]] },
  { kind: "line", color: colors.blue, label: [["Disk Model - offset, ", "n"], ["\u03b3", "i"], [thin + "= \u2212" + thin + "1" + hair + "\u27f9" + hair, "n"], ["T", "i"], ["(", "n"], ["R", "i"], [thin + "\u2217", "sub"], [")" + thin + "= 9800)", "n"]] },
  { kind: "line", color: colors.orange, label: [["Disk Model - offset, ", "n"], ["\u03b3", "i"], [thin + "=" + thin + "0" + hair + "\u27f9" + hair, "n"], ["T", "i"], ["(", "n"], ["R", "i"], [thin + "\u2217", "sub"], [")" + thin + "= 7000)", "n"]] },
  { kind: "line", color: colors.green, label: [["Disk Model - offset, ", "n"], ["\u03b3", "i"], [thin + "= +" + thin + "1" + hair + "\u27f9" + hair, "n"], ["T", "i"], ["(", "n"], ["R", "i"], [thin + "\u2217", "sub"], [")" + thin + "= 5000)", "n"]] },
  { kind: "patch", fill: "#e8d8da", stroke: "#d8bcbf", label: [["Model Artifact", "n"]] },
  { kind: "patch", fill: "#fcebd9", stroke: "#f9dcbd", label: [["Wind Lines", "n"]] }
];
const legendRowY = [213.5, 264, 317.5, 370.5, 422.5, 471];

const legend = svg.append("g");
legend.append("rect")
  .attr("x", 233).attr("y", 186).attr("width", 854).attr("height", 317)
  .attr("rx", 8).attr("ry", 8)
  .attr("fill", "#fff").attr("fill-opacity", 0.8)
  .attr("stroke", "#cccccc").attr("stroke-width", 2.2);

legendRows.forEach((row, i) => {
  const cy = legendRowY[i];
  if (row.kind === "line") {
    legend.append("line")
      .attr("x1", 242).attr("x2", 314).attr("y1", cy).attr("y2", cy)
      .attr("stroke", row.color).attr("stroke-width", 5.3);
  } else {
    legend.append("rect")
      .attr("x", 244).attr("y", cy - 11.5).attr("width", 69).attr("height", 23)
      .attr("fill", row.fill).attr("stroke", row.stroke).attr("stroke-width", 2.5);
  }
  const t = legend.append("text")
    .attr("x", 337).attr("y", cy + legendFont * 0.36)
    .attr("font-size", legendFont);
  richText(t, row.label, legendFont);
});

// ---------- bottom panel: percent error ----------
const errPanel = svg.append("g");
drawBands(errPanel.append("g").attr("clip-path", "url(#clip-err)"), errTop, errBottom);

errPanel.append("line")
  .attr("x1", plotLeft).attr("x2", plotRight)
  .attr("y1", yErr(0)).attr("y2", yErr(0))
  .attr("stroke", "#000").attr("stroke-width", 4.4);

const errLine = d3.line().x(d => x(d[0])).y(d => yErr(d[1]));
errPanel.append("g")
  .attr("clip-path", "url(#clip-err)")
  .selectAll("path")
  .data(errSeries)
  .join("path")
  .attr("d", d => errLine(d.data))
  .attr("fill", "none")
  .attr("stroke", d => d.color)
  .attr("stroke-width", 5.3)
  .attr("stroke-linejoin", "round");

errPanel.append("g")
  .attr("transform", `translate(0,${errBottom})`)
  .call(d3.axisBottom(x).tickValues(wavelengthTicks).tickFormat(d3.format("d"))
    .tickSize(9.7).tickPadding(9.7))
  .call(styleAxis);
errPanel.append("g")
  .attr("transform", `translate(${plotLeft},0)`)
  .call(d3.axisLeft(yErr).tickValues(errorTicks)
    .tickFormat(d => minus(String(d))).tickSize(9.7).tickPadding(9.7))
  .call(styleAxis);

errPanel.append("rect")
  .attr("x", plotLeft).attr("y", errTop)
  .attr("width", plotRight - plotLeft).attr("height", errBottom - errTop)
  .attr("fill", "none").attr("stroke", "#000").attr("stroke-width", 2.2);

// ---------- titles and axis labels ----------
svg.append("text")
  .attr("x", 1104).attr("y", 57)
  .attr("text-anchor", "middle")
  .attr("font-size", 52.7)
  .text("Gaia 17bpi Spectrum: Is There A Boundary Region?");

const xLabel = svg.append("text")
  .attr("x", (plotLeft + plotRight) / 2).attr("y", 1469)
  .attr("text-anchor", "middle")
  .attr("font-size", tickFont);
richText(xLabel, [["\u03bb", "i"], [" (Angstroms)", "n"]], tickFont);

const yLabel = svg.append("text")
  .attr("transform", "translate(66,630) rotate(-90)")
  .attr("text-anchor", "middle")
  .attr("font-size", tickFont);
richText(yLabel, [
  ["F", "i"], ["\u03bb", "subi"], [" (", "n"], ["erg cm" + thin, "i"], ["\u22122", "sup"],
  ["s" + thin, "i"], ["\u22121", "sup"], ["\u00c5" + thin, "i"], ["\u22121", "sup"], [")", "n"]
], tickFont);

const errLabel = svg.append("g")
  .attr("transform", `translate(0,${(errTop + errBottom) / 2})`);
[["Percent", 43], ["Error", 86]].forEach(([word, bx]) => {
  errLabel.append("text")
    .attr("transform", `translate(${bx},0) rotate(-90)`)
    .attr("text-anchor", "middle")
    .attr("font-size", tickFont)
    .text(word);
});
</script>
</body>
</html>
